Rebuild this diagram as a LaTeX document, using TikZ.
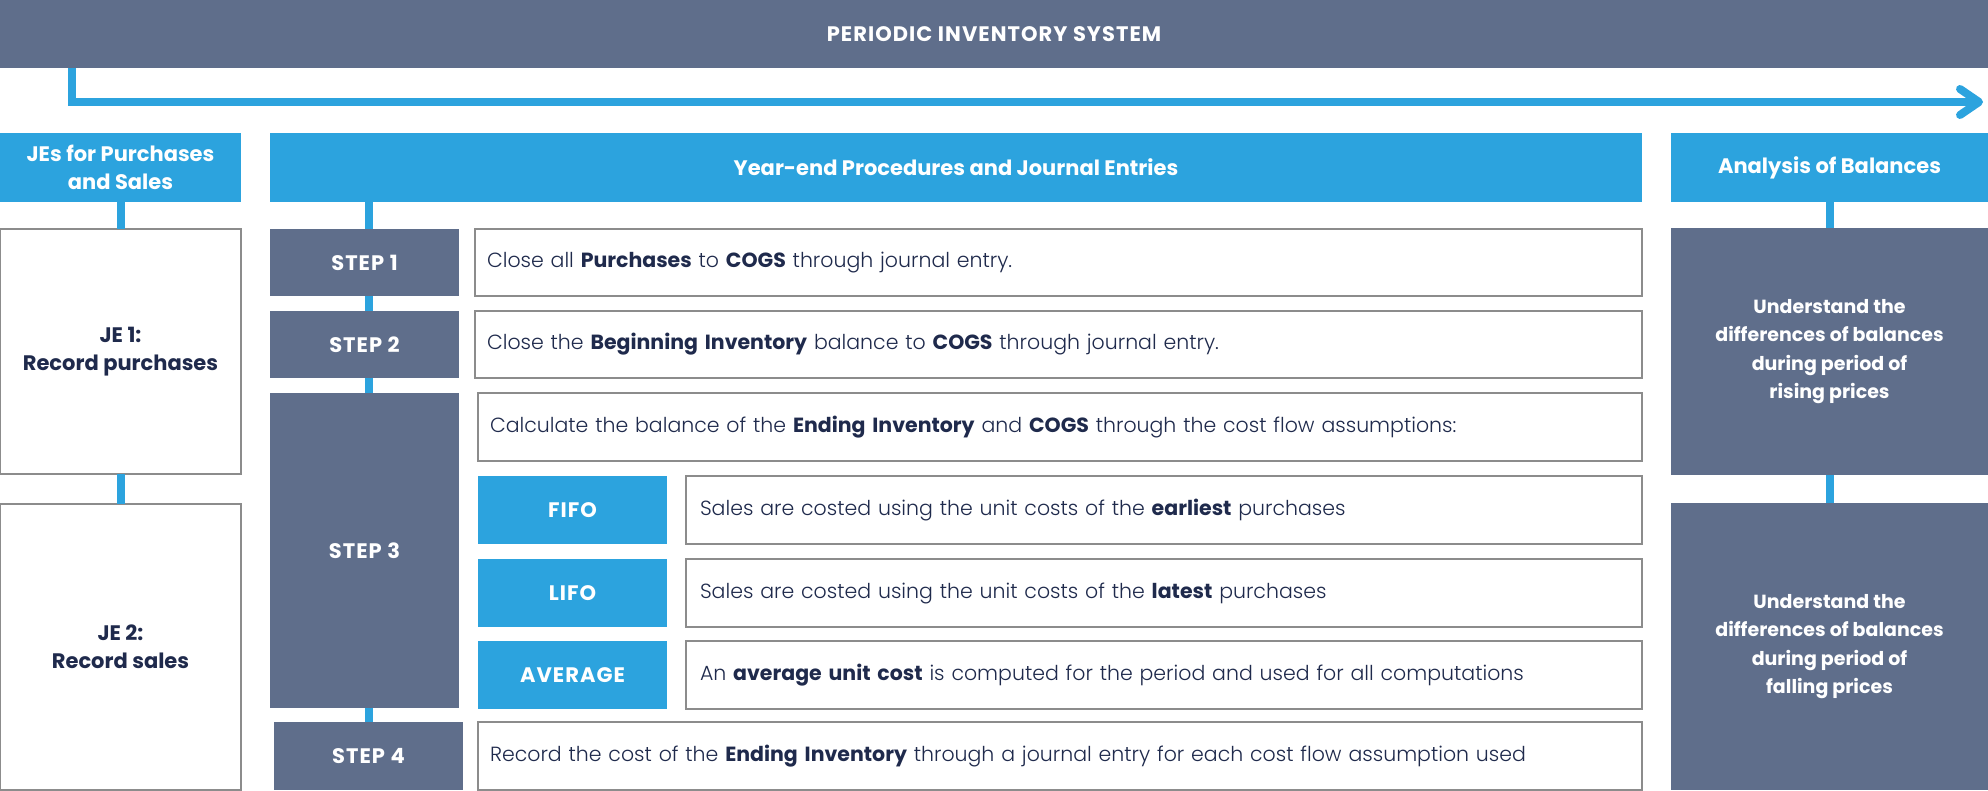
\documentclass[tikz,border=0pt]{standalone}
\usepackage{fontspec}
\setmainfont{Poppins}
\IfFontExistsTF{Poppins Light}
  {\newfontfamily\lightfont{Poppins}[UprightFont=* Light, BoldFont=* Bold]}
  {\newfontfamily\lightfont{Poppins}}
\usetikzlibrary{arrows.meta}
\usetikzlibrary{positioning}

\definecolor{slate}{HTML}{5F6E8B}
\definecolor{skyblue}{HTML}{2CA3DE}
\definecolor{navy}{HTML}{1F2A4C}
\definecolor{rimgray}{HTML}{8C8C8C}

\newcommand{\bodyfont}{\lightfont\fontsize{20.5}{26}\selectfont}
\newcommand{\headfont}{\fontsize{21}{28}\selectfont\bfseries}
\newcommand{\wideheadfont}{\fontsize{21}{28}\selectfont\bfseries\addfontfeatures{LetterSpace=5}}

\begin{document}
\begin{tikzpicture}[x=1pt, y=-1pt, node distance=15pt,
  every node/.style={outer sep=0pt, inner sep=0pt},
  bar/.style={fill=slate, text=white, font=\wideheadfont},
  head/.style={fill=skyblue, text=white, align=center, font=\headfont,
    minimum height=69pt, anchor=north west},
  stepbox/.style={fill=slate, text=white, font=\wideheadfont, minimum width=189pt},
  sortbox/.style={fill=skyblue, text=white, font=\wideheadfont,
    minimum width=189pt, minimum height=68pt},
  textbox/.style={draw=rimgray, line width=1.2pt, fill=white, text=navy,
    align=left, font=\bodyfont, inner xsep=12pt},
  jebox/.style={draw=rimgray, line width=1.2pt, fill=white, text=navy,
    align=center, font=\headfont, minimum width=241pt, anchor=north west},
  notebox/.style={fill=slate, text=white, align=center,
    font=\fontsize{19}{28.5}\selectfont\bfseries, minimum width=317pt},
  linkline/.style={draw=skyblue, line width=8pt}]

  \useasboundingbox (0,0) rectangle (1988,791);

  % top banner and time arrow
  \node[bar, minimum width=1988pt, minimum height=68pt, anchor=north west] (banner) at (0,0) {PERIODIC INVENTORY SYSTEM};
  \coordinate (elbow) at (72,102);
  \coordinate (arrowtip) at (1983,102);
  \draw[linkline, -{Straight Barb[length=19pt, width=26pt, round]}]
    (banner.south -| elbow) -- (elbow) -- (arrowtip);

  % headers
  \node[head, minimum width=241pt] (jehead) at (0,133) {JEs for Purchases\\and Sales};
  \node[head, minimum width=1372pt] (yehead) at (270,133) {Year-end Procedures and Journal Entries};
  \node[head, minimum width=317pt] (anhead) at (1671,133) {Analysis of Balances};

  % left column
  \node[jebox, minimum height=245pt] (je1) at (0,229) {JE 1:\\Record purchases};
  \node[jebox, minimum height=286pt] (je2) at (0,504) {JE 2:\\Record sales};

  % steps
  \node[stepbox, minimum height=67pt, anchor=north west] (step1) at (270,229) {STEP 1};
  \node[stepbox, minimum height=67pt, below=15pt of step1] (step2) {STEP 2};
  \node[stepbox, minimum height=315pt, below=15pt of step2] (step3) {STEP 3};
  \node[stepbox, minimum height=68pt, below=14pt of step3, xshift=4pt] (step4) {STEP 4};

  \node[textbox, text width=1143pt, minimum height=67pt, right=16pt of step1] (close1)
    {Close all \textbf{Purchases} to \textbf{COGS} through journal entry.};
  \node[textbox, text width=1143pt, minimum height=67pt, right=16pt of step2] (close2)
    {Close the \textbf{Beginning Inventory} balance to \textbf{COGS} through journal entry.};
  \node[textbox, text width=1140pt, minimum height=68pt, anchor=north west] (calc)
    at ([xshift=19pt]step3.north east)
    {Calculate the balance of the \textbf{Ending Inventory} and \textbf{COGS} through the cost flow assumptions:};

  \node[sortbox, below right=15pt and 0pt of calc.south west] (fifo) {FIFO};
  \node[sortbox, below=15pt of fifo] (lifo) {LIFO};
  \node[sortbox, below=14pt of lifo] (avg) {AVERAGE};

  \node[textbox, inner xsep=14pt, text width=928pt, minimum height=68pt, right=19pt of fifo] (fifotext)
    {Sales are costed using the unit costs of the \textbf{earliest} purchases};
  \node[textbox, inner xsep=14pt, text width=928pt, minimum height=68pt, right=19pt of lifo] (lifotext)
    {Sales are costed using the unit costs of the \textbf{latest} purchases};
  \node[textbox, inner xsep=14pt, text width=928pt, minimum height=68pt, right=19pt of avg] (avgtext)
    {An \textbf{average unit cost} is computed for the period and used for all computations};

  \node[textbox, text width=1140pt, minimum height=68pt, right=15pt of step4] (record)
    {Record the cost of the \textbf{Ending Inventory} through a journal entry for each cost flow assumption used};

  % right column
  \node[notebox, minimum height=247pt, anchor=north west] (rising) at (1671,228)
    {Understand the\\differences of balances\\during period of\\rising prices};
  \node[notebox, minimum height=287pt, below=28pt of rising] (falling)
    {Understand the\\differences of balances\\during period of\\falling prices};

  % connectors
  \draw[linkline] (jehead.south) -- (je1.north);
  \draw[linkline] (je1.south) -- (je2.north);
  \draw[linkline] (yehead.south -| step4) -- (step1.north -| step4);
  \draw[linkline] (step1.south -| step4) -- (step2.north -| step4);
  \draw[linkline] (step2.south -| step4) -- (step3.north -| step4);
  \draw[linkline] (step3.south -| step4) -- (step4.north);
  \draw[linkline] (anhead.south) -- (rising.north);
  \draw[linkline] (rising.south) -- (falling.north);
\end{tikzpicture}
\end{document}
